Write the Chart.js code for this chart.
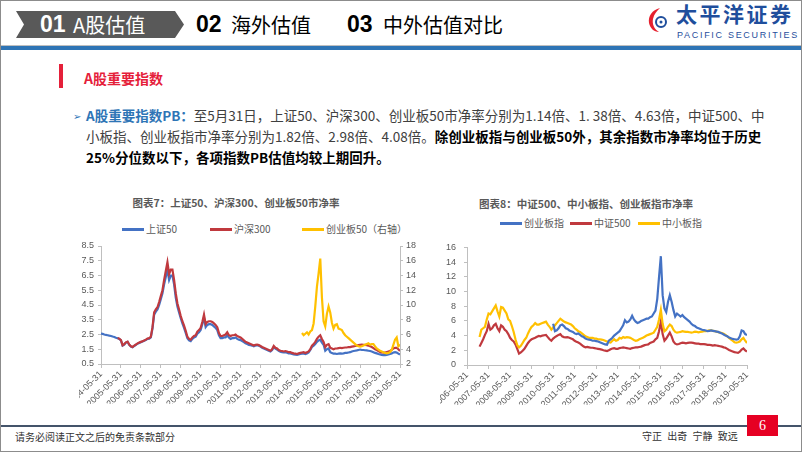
<!DOCTYPE html>
<html>
<head>
<meta charset="utf-8">
<script src="https://cdn.jsdelivr.net/npm/chart.js@4.4.1/dist/chart.umd.min.js"></script>
<style>
body { margin: 0; background: #fff; }
#slide { position: relative; width: 802px; height: 452px; overflow: hidden; background: #fff;
  font-family: "Noto Sans CJK SC", "Noto Sans", sans-serif; color: #404040; }
.abs { position: absolute; white-space: nowrap; }
#frame { position: absolute; left: 0; top: 0; width: 802px; height: 452px; box-sizing: border-box;
  border: 1px solid #8c8c8c; pointer-events: none; }
#banner { left: 16px; top: 11px; width: 168px; height: 27px; background: #595959;
  clip-path: polygon(0 0, 159px 0, 168px 50%, 159px 100%, 0 100%, 8px 50%); }
.num { font-family: "Liberation Sans Narrow", "Liberation Sans", sans-serif; font-weight: bold; font-size: 23px; line-height: 27px; }
.tab { font-size: 20px; line-height: 27px; }
.para { left: 86px; font-size: 13.5px; line-height: 21px; color: #404040; }
.para b { color: #000; }
.ctitle { font-size: 10.5px; font-weight: bold; color: #595959; line-height: 14px; text-align: center; width: 280px; }
.leg { font-size: 10px; color: #595959; line-height: 12px; }
.legline { position: absolute; height: 2.5px; width: 22px; }
canvas { position: absolute; }
</style>
</head>
<body>
<div id="slide">
  <div class="abs" id="banner"></div>
  <div class="abs num" style="left:40px;top:11px;color:#fff;">01</div>
  <div class="abs tab" style="left:73px;top:11px;color:#fff;">A股估值</div>
  <div class="abs num" style="left:196px;top:11px;color:#000;">02</div>
  <div class="abs tab" style="left:231px;top:11px;color:#000;">海外估值</div>
  <div class="abs num" style="left:347px;top:11px;color:#000;">03</div>
  <div class="abs tab" style="left:383px;top:11px;color:#000;">中外估值对比</div>

  <svg class="abs" style="left:648px;top:7px;" width="22" height="26" viewBox="0 0 22 26">
    <path d="M12 1 C4 3 0 9 1 16 C2 21 6 25 11 25 C6 22 4 17 5 12 C6 7 9 4 12 1 Z" fill="#E5202E"/>
    <circle cx="13" cy="15" r="5" fill="none" stroke="#1F4E9C" stroke-width="2"/>
    <circle cx="13" cy="15" r="1.5" fill="#1F4E9C"/>
  </svg>
  <div class="abs" style="left:676px;top:0px;font-size:21px;font-weight:bold;color:#1F4E9C;letter-spacing:2.5px;line-height:27px;">太平洋证券</div>
  <div class="abs" style="left:677px;top:29px;font-size:9px;color:#1F4E9C;letter-spacing:1.7px;line-height:12px;font-family:'Liberation Sans',sans-serif;">PACIFIC SECURITIES</div>

  <div class="abs" style="left:0;top:45px;width:802px;height:1px;background:#bfbfbf;"></div>
  <div class="abs" style="left:0;top:46px;width:802px;height:4px;background:#2E74B5;"></div>

  <div class="abs" style="left:59px;top:64px;width:4px;height:24px;background:#E5203A;"></div>
  <div class="abs" style="left:84px;top:68px;font-size:14px;font-weight:bold;color:#E5203A;line-height:20px;">A股重要指数</div>

  <div class="abs" style="left:73px;top:107px;font-size:10px;color:#2E75B6;line-height:18px;">➢</div>
  <div class="abs para" style="top:105px;"><span style="color:#2E75B6;font-weight:bold;">A股重要指数PB：</span>至5月31日，上证50、沪深300、创业板50市净率分别为1.14倍、1. 38倍、4.63倍，中证500、中</div>
  <div class="abs para" style="top:126px;">小板指、创业板指市净率分别为1.82倍、2.98倍、4.08倍。<b>除创业板指与创业板50外，其余指数市净率均位于历史</b></div>
  <div class="abs para" style="top:147px;"><b>25%分位数以下，各项指数PB估值均较上期回升。</b></div>

  <div class="abs ctitle" style="left:96px;top:196px;">图表7：上证50、沪深300、创业板50市净率</div>
  <div class="abs ctitle" style="left:446px;top:197px;">图表8：中证500、中小板指、创业板指市净率</div>

  <div class="legline" style="left:122px;top:228px;background:#4472C4;"></div>
  <div class="abs leg" style="left:146px;top:223px;">上证50</div>
  <div class="legline" style="left:210px;top:228px;background:#C0393E;"></div>
  <div class="abs leg" style="left:234px;top:223px;">沪深300</div>
  <div class="legline" style="left:302px;top:228px;background:#FFC000;"></div>
  <div class="abs leg" style="left:326px;top:223px;">创业板50（右轴）</div>

  <div class="legline" style="left:500px;top:222px;background:#4472C4;"></div>
  <div class="abs leg" style="left:524px;top:217px;">创业板指</div>
  <div class="legline" style="left:570px;top:222px;background:#C0393E;"></div>
  <div class="abs leg" style="left:594px;top:217px;">中证500</div>
  <div class="legline" style="left:638px;top:222px;background:#FFC000;"></div>
  <div class="abs leg" style="left:662px;top:217px;">中小板指</div>

  <canvas id="chart1" width="341" height="168" style="left:79px;top:236px;"></canvas>
  <canvas id="chart2" width="320" height="171" style="left:440px;top:234px;"></canvas>

  <div class="abs" style="left:0;top:425px;width:802px;height:2px;background:#44546A;"></div>
  <div class="abs" style="left:15px;top:430px;font-size:10px;color:#333;line-height:14px;">请务必阅读正文之后的免责条款部分</div>
  <div class="abs" style="left:642px;top:429px;font-size:10px;color:#333;line-height:14px;word-spacing:3px;">守正 出奇 宁静 致远</div>
  <div class="abs" style="left:747px;top:415px;width:31px;height:21px;background:#E60023;color:#fff;font-family:'Liberation Serif',serif;font-size:14px;line-height:21px;text-align:center;">6</div>
  <div id="frame"></div>
</div>

<script>
// chart 7: month index 0 = 2004-05
var ticks1 = ['2004-05-31', '2005-05-31', '2006-05-31', '2007-05-31', '2008-05-31', '2009-05-31', '2010-05-31', '2011-05-31',
	'2012-05-31', '2013-05-31', '2014-05-31', '2015-05-31', '2016-05-31', '2017-05-31', '2018-05-31', '2019-05-31'];
var yTicks1 = [0.5, 1.5, 2.5, 3.5, 4.5, 5.5, 6.5, 7.5, 8.5];

var sz50Start = 0;
var sz50 = [
	2.56, 2.54, 2.5, 2.47, 2.45, 2.42, 2.4, 2.36, 2.33, 2.28,
	2.24, 2.2, 2.1, 1.75, 1.82, 1.95, 2.0, 1.8, 1.68, 1.63,
	1.72, 1.8, 1.88, 1.93, 1.98, 2.03, 2.08, 2.12, 2.2, 2.22,
	2.3, 2.9, 3.85, 4.05, 4.2, 4.5, 4.9, 5.3, 5.9, 6.4,
	6.9, 6.2, 6.5, 6.5, 5.9, 5.0, 4.4, 4.0, 3.6, 3.25,
	2.95, 2.6, 2.25, 2.1, 2.05, 2.2, 2.3, 2.35, 2.55, 2.65,
	2.8, 3.2, 3.65, 3.0, 3.15, 3.2, 3.2, 3.15, 3.05, 2.95,
	2.8, 2.45, 2.25, 2.25, 2.3, 2.3, 2.45, 2.3, 2.2, 2.25,
	2.25, 2.3, 2.2, 2.15, 2.12, 2.05, 1.98, 1.9, 1.85, 1.8,
	1.78, 1.75, 1.7, 1.75, 1.78, 1.73, 1.68, 1.6, 1.55, 1.5,
	1.45, 1.4, 1.35, 1.45, 1.65, 1.55, 1.48, 1.4, 1.33, 1.3,
	1.28, 1.3, 1.27, 1.22, 1.22, 1.18, 1.15, 1.13, 1.12, 1.15,
	1.18, 1.2, 1.22, 1.18, 1.22, 1.28, 1.45, 1.65, 1.75, 1.85,
	2.0, 2.1, 2.15, 1.95, 1.8, 1.4, 1.5, 1.55, 1.3, 1.25,
	1.2, 1.2, 1.18, 1.2, 1.22, 1.2, 1.22, 1.25, 1.25, 1.28,
	1.3, 1.35, 1.38, 1.4, 1.42, 1.45, 1.48, 1.45, 1.45, 1.43,
	1.42, 1.4, 1.38, 1.35, 1.3, 1.25, 1.22, 1.18, 1.15, 1.12,
	1.1, 1.1, 1.12, 1.15, 1.18, 1.22, 1.28, 1.3, 1.28, 1.2, 1.14
];

var hs300Start = 10;
var hs300 = [
	2.26, 2.22, 2.12, 1.77, 1.85, 1.97, 2.02, 1.82, 1.7, 1.66,
	1.75, 1.82, 1.9, 1.95, 2.0, 2.05, 2.1, 2.15, 2.23, 2.25,
	2.35, 3.0, 4.0, 4.2, 4.35, 4.7, 5.1, 5.5, 6.2, 6.8,
	7.4, 6.6, 6.9, 6.9, 6.2, 5.3, 4.6, 4.2, 3.75, 3.4,
	3.1, 2.75, 2.35, 2.2, 2.15, 2.3, 2.4, 2.45, 2.7, 2.8,
	2.95, 3.35, 3.85, 3.2, 3.35, 3.4, 3.4, 3.35, 3.25, 3.15,
	3.0, 2.6, 2.4, 2.4, 2.45, 2.5, 2.65, 2.45, 2.4, 2.45,
	2.45, 2.5, 2.4, 2.35, 2.3, 2.2, 2.1, 2.0, 1.95, 1.9,
	1.85, 1.8, 1.75, 1.8, 1.82, 1.78, 1.72, 1.65, 1.6, 1.55,
	1.5, 1.45, 1.4, 1.5, 1.72, 1.6, 1.55, 1.45, 1.4, 1.38,
	1.35, 1.38, 1.35, 1.3, 1.3, 1.25, 1.22, 1.2, 1.18, 1.22,
	1.25, 1.28, 1.3, 1.25, 1.3, 1.35, 1.5, 1.75, 1.85, 2.0,
	2.2, 2.35, 2.45, 2.2, 2.0, 1.65, 1.8, 1.85, 1.6, 1.55,
	1.5, 1.55, 1.55, 1.58, 1.6, 1.58, 1.6, 1.62, 1.62, 1.65,
	1.65, 1.68, 1.7, 1.72, 1.75, 1.78, 1.8, 1.82, 1.8, 1.8,
	1.78, 1.75, 1.7, 1.65, 1.58, 1.5, 1.45, 1.38, 1.32, 1.28,
	1.27, 1.28, 1.3, 1.35, 1.38, 1.45, 1.55, 1.6, 1.6, 1.5, 1.38
];

var cyb50Start = 121;
var cyb50 = [
	6.2, 5.9, 6.1, 6.3, 6.0, 6.4, 6.6, 7.5, 9.8, 12.5,
	14.3, 16.3, 11.0, 7.8, 7.1, 8.8, 9.8, 9.0, 7.6, 6.8,
	7.3, 7.4, 6.8, 6.7, 6.6, 6.2, 5.9, 5.7, 5.5, 5.3,
	5.1, 4.9, 4.7, 4.5, 4.4, 4.35, 4.4, 4.5, 4.6, 4.7,
	4.8, 4.6, 4.7, 4.7, 4.4, 4.1, 3.95, 3.8, 3.7, 3.6,
	3.5, 3.45, 3.5, 3.6, 3.9, 4.6, 5.3, 5.6, 4.4, 4.63
];

// chart 8: month index 0 = 2006-05
var ticks2 = ['2006-05-31', '2007-05-31', '2008-05-31', '2009-05-31', '2010-05-31', '2011-05-31', '2012-05-31',
	'2013-05-31', '2014-05-31', '2015-05-31', '2016-05-31', '2017-05-31', '2018-05-31', '2019-05-31'];

var zz500Start = 7;
var zz500 = [
	2.5, 3.0, 3.5, 4.1, 4.6, 5.6, 4.8, 5.0, 5.4, 5.6,
	5.0, 4.6, 5.4, 5.2, 4.8, 4.6, 4.2, 3.7, 3.4, 3.2,
	2.8, 2.2, 1.55, 1.7, 1.95, 2.2, 2.6, 3.0, 3.3, 3.5,
	3.6, 3.7, 3.85, 3.95, 3.9, 4.0, 4.05, 4.1, 3.8, 3.5,
	3.3, 3.6, 3.8, 3.95, 4.1, 4.2, 3.9, 3.8, 3.75, 3.8,
	3.7, 3.6, 3.5, 3.3, 3.15, 3.05, 2.9, 2.7, 2.5, 2.4,
	2.45, 2.4, 2.35, 2.35, 2.3, 2.25, 2.2, 2.15, 2.1, 2.0,
	1.95, 1.9, 2.0, 2.15, 2.25, 2.3, 2.2, 2.2, 2.3, 2.35,
	2.4, 2.35, 2.3, 2.25, 2.2, 2.3, 2.35, 2.4, 2.4, 2.45,
	2.5, 2.6, 2.7, 2.75, 2.8, 3.0, 3.1, 3.2, 3.5, 3.7,
	4.6, 5.9, 4.2, 3.3, 3.6, 4.0, 4.4, 3.9, 3.2, 2.9,
	2.8, 2.85, 2.95, 3.05, 3.0, 2.95, 3.0, 3.05, 3.05, 3.0,
	2.95, 2.9, 2.9, 2.85, 2.85, 2.85, 2.8, 2.75, 2.75, 2.7,
	2.65, 2.7, 2.65, 2.6, 2.55, 2.5, 2.4, 2.35, 2.2, 2.05,
	1.95, 1.85, 1.75, 1.7, 1.65, 1.8, 2.1, 2.25, 2.0, 1.82
];

var zxbStart = 7;
var zxb = [
	3.8, 4.8, 5.0, 5.2, 6.2, 7.0, 6.9, 7.3, 7.7, 8.1,
	7.3, 6.6, 7.9, 7.8, 7.4, 7.0, 6.2, 6.0, 5.3, 4.5,
	3.5, 2.7, 2.4, 2.6, 3.0, 3.4, 3.7, 4.3, 4.8, 5.2,
	5.4, 5.7, 5.5, 5.5, 5.6, 5.7, 5.8, 5.9, 5.5, 5.2,
	4.8, 5.1, 5.4, 5.7, 6.0, 6.3, 6.1, 5.9, 5.8, 5.7,
	5.6, 5.5, 5.3, 5.0, 4.8, 4.6, 4.5, 4.3, 4.1, 3.9,
	3.8, 3.7, 3.7, 3.7, 3.6, 3.6, 3.5, 3.5, 3.45, 3.4,
	3.3, 3.2, 3.1, 3.05, 3.3, 3.5, 3.3, 3.4, 3.7, 3.6,
	3.8, 3.7, 3.8, 3.75, 3.7, 3.55, 3.4, 3.3, 3.35, 3.5,
	3.6, 3.7, 3.85, 4.0, 4.1, 4.2, 4.3, 4.4, 4.8, 5.2,
	6.2, 7.5, 5.6, 4.6, 4.8, 5.2, 5.5, 5.3, 4.8, 4.5,
	4.4, 4.45, 4.5, 4.6, 4.55, 4.5, 4.5, 4.45, 4.4, 4.45,
	4.55, 4.5, 4.45, 4.5, 4.55, 4.6, 4.6, 4.65, 4.7, 4.7,
	4.65, 4.6, 4.55, 4.45, 4.4, 4.35, 4.25, 4.1, 3.9, 3.7,
	3.5, 3.3, 3.1, 3.05, 3.1, 3.2, 3.5, 3.7, 3.3, 2.98
];

var cybzStart = 48;
var cybz = [
	5.6, 4.6, 4.7, 5.0, 5.4, 5.5, 5.3, 5.0, 4.9, 4.7,
	4.6, 4.5, 4.3, 4.2, 4.3, 4.1, 3.9, 3.8, 3.6, 3.5,
	3.45, 3.4, 3.3, 3.3, 3.25, 3.2, 3.1, 3.0, 2.9, 2.8,
	2.75, 3.3, 3.5, 3.7, 4.0, 4.2, 4.4, 4.6, 5.0, 5.4,
	6.1, 5.8, 5.9, 6.2, 6.7, 6.2, 5.9, 5.7, 5.8, 6.0,
	6.1, 6.2, 6.3, 6.3, 6.5, 6.6, 7.0, 7.4, 9.0, 12.0,
	14.8, 9.5, 7.7, 7.2, 8.6, 9.5, 8.6, 7.5, 6.6, 7.0,
	6.8, 6.6, 6.8, 6.5, 6.3, 6.1, 5.9, 5.6, 5.4, 5.3,
	5.1, 5.0, 4.9, 4.8, 4.75, 4.7, 4.6, 4.65, 4.7, 4.65,
	4.6, 4.55, 4.5, 4.4, 4.3, 4.15, 4.0, 3.9, 3.75, 3.65,
	3.55, 3.5, 3.45, 3.5, 3.9, 4.7, 4.6, 4.2, 4.08
];

function pts(values, start) {
	return values.map(function (v, k) { return { x: start + k, y: v }; });
}

var tickFont = { family: 'Liberation Sans', size: 9 };
var axisGray = '#BFBFBF';
var labelGray = '#595959';

function xAxis(labels, maxIndex) {
	return {
		type: 'linear', min: 0, max: maxIndex,
		ticks: {
			stepSize: 12, autoSkip: false, maxRotation: 45, minRotation: 45, padding: 1,
			font: tickFont, color: labelGray,
			callback: function (v) { return labels[v / 12]; }
		},
		grid: { drawOnChartArea: false, tickLength: 4, color: axisGray },
		border: { color: axisGray },
		afterFit: function (s) { s.height = 40; s.paddingLeft = 0; s.paddingRight = 0; }
	};
}

var ctx1 = document.getElementById('chart1').getContext('2d');
new Chart(ctx1, {
	type: 'line',
	data: {
		datasets: [
			{ label: '创业板50（右轴）', data: pts(cyb50, cyb50Start), yAxisID: 'y1', borderColor: '#FFC000', backgroundColor: '#FFC000', order: 0 },
			{ label: '沪深300', data: pts(hs300, hs300Start), yAxisID: 'y', borderColor: '#C0393E', backgroundColor: '#C0393E', order: 1 },
			{ label: '上证50', data: pts(sz50, sz50Start), yAxisID: 'y', borderColor: '#4472C4', backgroundColor: '#4472C4', order: 2 }
		]
	},
	options: {
		responsive: false,
		animation: false,
		layout: { padding: { top: 10, left: 0, right: 0, bottom: 0 } },
		plugins: { legend: { display: false }, tooltip: { enabled: false } },
		elements: { point: { radius: 0 }, line: { borderWidth: 2.2, tension: 0 } },
		scales: {
			x: xAxis(ticks1, 180),
			y: {
				position: 'left', min: 0.5, max: 8.5,
				afterBuildTicks: function (s) { s.ticks = yTicks1.map(function (v) { return { value: v }; }); },
				ticks: { font: tickFont, color: labelGray, padding: 4, callback: function (v) { return v.toFixed(1); } },
				grid: { drawOnChartArea: false, tickLength: 3, color: axisGray },
				border: { color: axisGray },
				afterFit: function (s) { s.width = 22; }
			},
			y1: {
				position: 'right', min: 2, max: 18,
				ticks: { stepSize: 2, font: tickFont, color: labelGray, padding: 3 },
				grid: { drawOnChartArea: false, tickLength: 3, color: axisGray },
				border: { color: axisGray },
				afterFit: function (s) { s.width = 20; }
			}
		}
	}
});

var ctx2 = document.getElementById('chart2').getContext('2d');
new Chart(ctx2, {
	type: 'line',
	data: {
		datasets: [
			{ label: '创业板指', data: pts(cybz, cybzStart), borderColor: '#4472C4', backgroundColor: '#4472C4', order: 0 },
			{ label: '中证500', data: pts(zz500, zz500Start), borderColor: '#C0393E', backgroundColor: '#C0393E', order: 2 },
			{ label: '中小板指', data: pts(zxb, zxbStart), borderColor: '#FFC000', backgroundColor: '#FFC000', order: 1 }
		]
	},
	options: {
		responsive: false,
		animation: false,
		layout: { padding: { top: 10, left: 0, right: 13, bottom: 0 } },
		plugins: { legend: { display: false }, tooltip: { enabled: false } },
		elements: { point: { radius: 0 }, line: { borderWidth: 2.2, tension: 0 } },
		scales: {
			x: xAxis(ticks2, 156),
			y: {
				position: 'left', min: 0, max: 16,
				ticks: { stepSize: 2, font: tickFont, color: labelGray, padding: 8 },
				grid: { drawOnChartArea: false, tickLength: 3, color: axisGray },
				border: { color: axisGray },
				afterFit: function (s) { s.width = 27; }
			}
		}
	}
});
</script>
</body>
</html>
